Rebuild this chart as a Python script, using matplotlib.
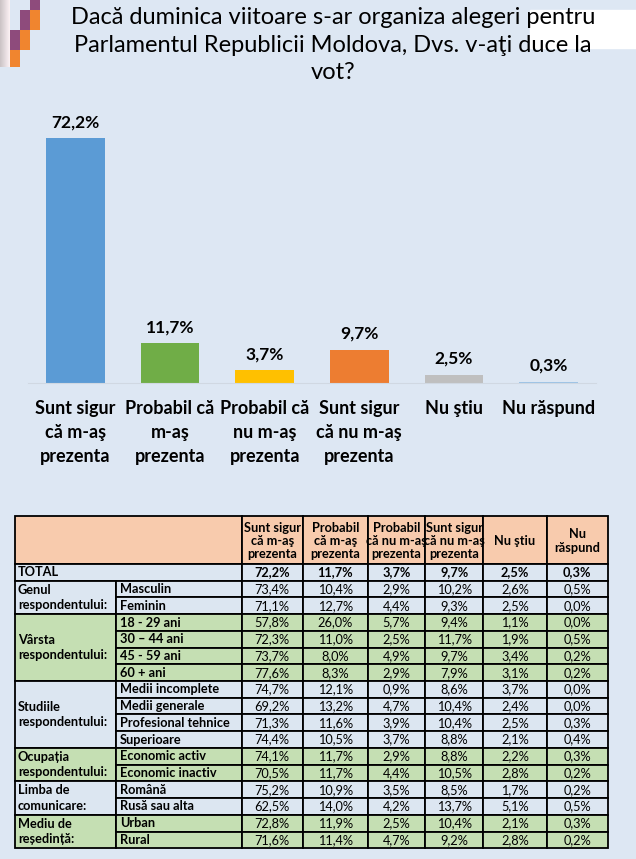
import matplotlib
matplotlib.use("Agg")
import matplotlib.pyplot as plt
from matplotlib.patches import Rectangle

plt.rcParams['font.family'] = ['Lato', 'DejaVu Sans']

# chart data
categories = ['Sunt sigur\ncă m-aş\nprezenta', 'Probabil că\nm-aş\nprezenta',
              'Probabil că\nnu m-aş\nprezenta', 'Sunt sigur\ncă nu m-aş\nprezenta',
              'Nu ştiu', 'Nu răspund']
values = [72.2, 11.7, 3.7, 9.7, 2.5, 0.3]
bar_colors = ['#5B9BD5', '#70AD47', '#FFC000', '#ED7D31', '#BFBFBF', '#9DC3E6']

title = 'Dacă duminica viitoare s-ar organiza alegeri pentru\nParlamentul Republicii Moldova, Dvs. v-aţi duce la\nvot?'

# table data
table_header = ['Sunt sigur\ncă m-aş\nprezenta', 'Probabil\ncă m-aş\nprezenta',
                'Probabil\ncă nu m-aş\nprezenta', 'Sunt sigur\ncă nu m-aş\nprezenta',
                'Nu ştiu', 'Nu\nrăspund']
total_row = ['72,2%', '11,7%', '3,7%', '9,7%', '2,5%', '0,3%']
groups = ['Genul\nrespondentului:', 'Vârsta\nrespondentului:', 'Studiile\nrespondentului:',
          'Ocupația\nrespondentului:', 'Limba de\ncomunicare:', 'Mediu de\nreședință:']
group_sizes = [2, 4, 4, 2, 2, 2]
group_green = [False, True, False, True, False, True]
subgroups = ['Masculin', 'Feminin',
             '18 - 29 ani', '30 – 44 ani', '45 - 59 ani', '60 + ani',
             'Medii incomplete', 'Medii generale', 'Profesional tehnice', 'Superioare',
             'Economic activ', 'Economic inactiv',
             'Română', 'Rusă sau alta',
             'Urban', 'Rural']
rows = [
    ['73,4%', '10,4%', '2,9%', '10,2%', '2,6%', '0,5%'],
    ['71,1%', '12,7%', '4,4%', '9,3%', '2,5%', '0,0%'],
    ['57,8%', '26,0%', '5,7%', '9,4%', '1,1%', '0,0%'],
    ['72,3%', '11,0%', '2,5%', '11,7%', '1,9%', '0,5%'],
    ['73,7%', '8,0%', '4,9%', '9,7%', '3,4%', '0,2%'],
    ['77,6%', '8,3%', '2,9%', '7,9%', '3,1%', '0,2%'],
    ['74,7%', '12,1%', '0,9%', '8,6%', '3,7%', '0,0%'],
    ['69,2%', '13,2%', '4,7%', '10,4%', '2,4%', '0,0%'],
    ['71,3%', '11,6%', '3,9%', '10,4%', '2,5%', '0,3%'],
    ['74,4%', '10,5%', '3,7%', '8,8%', '2,1%', '0,4%'],
    ['74,1%', '11,7%', '2,9%', '8,8%', '2,2%', '0,3%'],
    ['70,5%', '11,7%', '4,4%', '10,5%', '2,8%', '0,2%'],
    ['75,2%', '10,9%', '3,5%', '8,5%', '1,7%', '0,2%'],
    ['62,5%', '14,0%', '4,2%', '13,7%', '5,1%', '0,5%'],
    ['72,8%', '11,9%', '2,5%', '10,4%', '2,1%', '0,3%'],
    ['71,6%', '11,4%', '4,7%', '9,2%', '2,8%', '0,2%'],
]

BG = '#DDE7F3'
BLUE_ROW = '#DCE6F1'
GREEN_ROW = '#C5DFB3'
PEACH = '#F8CBAD'
W, H = 636, 859

fig = plt.figure(figsize=(W / 100, H / 100), dpi=100)
fig.patch.set_facecolor(BG)

# overlay in pixel coordinates for decorations, title and table
ov = fig.add_axes([0, 0, 1, 1])
ov.set_xlim(0, W)
ov.set_ylim(H, 0)
ov.axis('off')

# white band top right
ov.add_patch(Rectangle((530, 10), W - 530, 38, color='white', zorder=0))
# decorative squares top left
for x in range(10):
    shade = 0.80 + 0.02 * x
    ov.add_patch(Rectangle((x, 0), 1, 67, color=(shade, shade * 0.96, shade * 0.97), lw=0))
purple = '#8E4B7C'
orange = '#F0852F'
for (x, y, h, c) in [(30, 0, 10, purple), (20, 10, 20, purple), (30, 10, 20, orange),
                     (10, 30, 20, purple), (20, 30, 20, orange), (10, 50, 17, orange)]:
    ov.add_patch(Rectangle((x, y), 10, h, color=c, lw=0))

ov.text(333, 45, title, ha='center', va='center', fontsize=17,
        linespacing=1.4, color='black')

# bar chart
ax = fig.add_axes([28 / W, 1 - 383 / H, (596 - 28) / W, (383 - 112) / H])
ax.set_facecolor('none')
xs = range(len(values))
ax.bar(xs, values, width=0.62, color=bar_colors)
for x, v in zip(xs, values):
    ax.annotate(f'{v:.1f}%'.replace('.', ','), (x, v), xytext=(0, 6),
                textcoords='offset points', ha='center', va='bottom',
                fontsize=12.5, fontweight='bold')
ax.set_xlim(-0.5, len(values) - 0.5)
ax.set_ylim(0, 80)
ax.set_yticks([])
ax.set_xticks(list(xs))
ax.set_xticklabels(categories, fontsize=13, fontweight='bold', linespacing=1.5)
ax.tick_params(axis='x', length=0, pad=12)
for s in ['top', 'left', 'right']:
    ax.spines[s].set_visible(False)
ax.spines['bottom'].set_color('#D0D8E2')

# table
col_x = [15, 116, 241.7, 302.7, 367.7, 425, 483.3, 546.7, 608]
top, head_h, row_h = 516, 48, 16.72
fs = 9.2
lw = 1.3

def cell(x0, x1, y0, y1, color):
    ov.add_patch(Rectangle((x0, y0), x1 - x0, y1 - y0, facecolor=color,
                           edgecolor='black', lw=lw, zorder=2))

# header
cell(col_x[0], col_x[2], top, top + head_h, PEACH)
for j, txt in enumerate(table_header):
    cell(col_x[j + 2], col_x[j + 3], top, top + head_h, PEACH)
    ov.text((col_x[j + 2] + col_x[j + 3]) / 2, top + head_h / 2 + 1, txt, ha='center',
            va='center', fontsize=fs, fontweight='bold', linespacing=1.15, zorder=3)

# total row
y = top + head_h
cell(col_x[0], col_x[2], y, y + row_h, BLUE_ROW)
ov.text(col_x[0] + 3, y + row_h / 2, 'TOTAL', va='center', fontsize=fs,
        fontweight='bold', zorder=3)
for j, txt in enumerate(total_row):
    cell(col_x[j + 2], col_x[j + 3], y, y + row_h, BLUE_ROW)
    ov.text((col_x[j + 2] + col_x[j + 3]) / 2, y + row_h / 2, txt, ha='center',
            va='center', fontsize=fs, fontweight='bold', zorder=3)
y += row_h

# groups
k = 0
for g, n, green in zip(groups, group_sizes, group_green):
    color = GREEN_ROW if green else BLUE_ROW
    cell(col_x[0], col_x[1], y, y + n * row_h, color)
    ov.text(col_x[0] + 3, y + n * row_h / 2, g, va='center', fontsize=fs,
            fontweight='bold', linespacing=1.35, zorder=3)
    for i in range(n):
        yy = y + i * row_h
        cell(col_x[1], col_x[2], yy, yy + row_h, color)
        ov.text(col_x[1] + 4, yy + row_h / 2, subgroups[k], va='center',
                fontsize=fs, fontweight='bold', zorder=3)
        for j, txt in enumerate(rows[k]):
            cell(col_x[j + 2], col_x[j + 3], yy, yy + row_h, color)
            ov.text((col_x[j + 2] + col_x[j + 3]) / 2, yy + row_h / 2, txt,
                    ha='center', va='center', fontsize=fs, zorder=3)
        k += 1
    y += n * row_h

fig.savefig('out.png', dpi=100, facecolor=BG)
